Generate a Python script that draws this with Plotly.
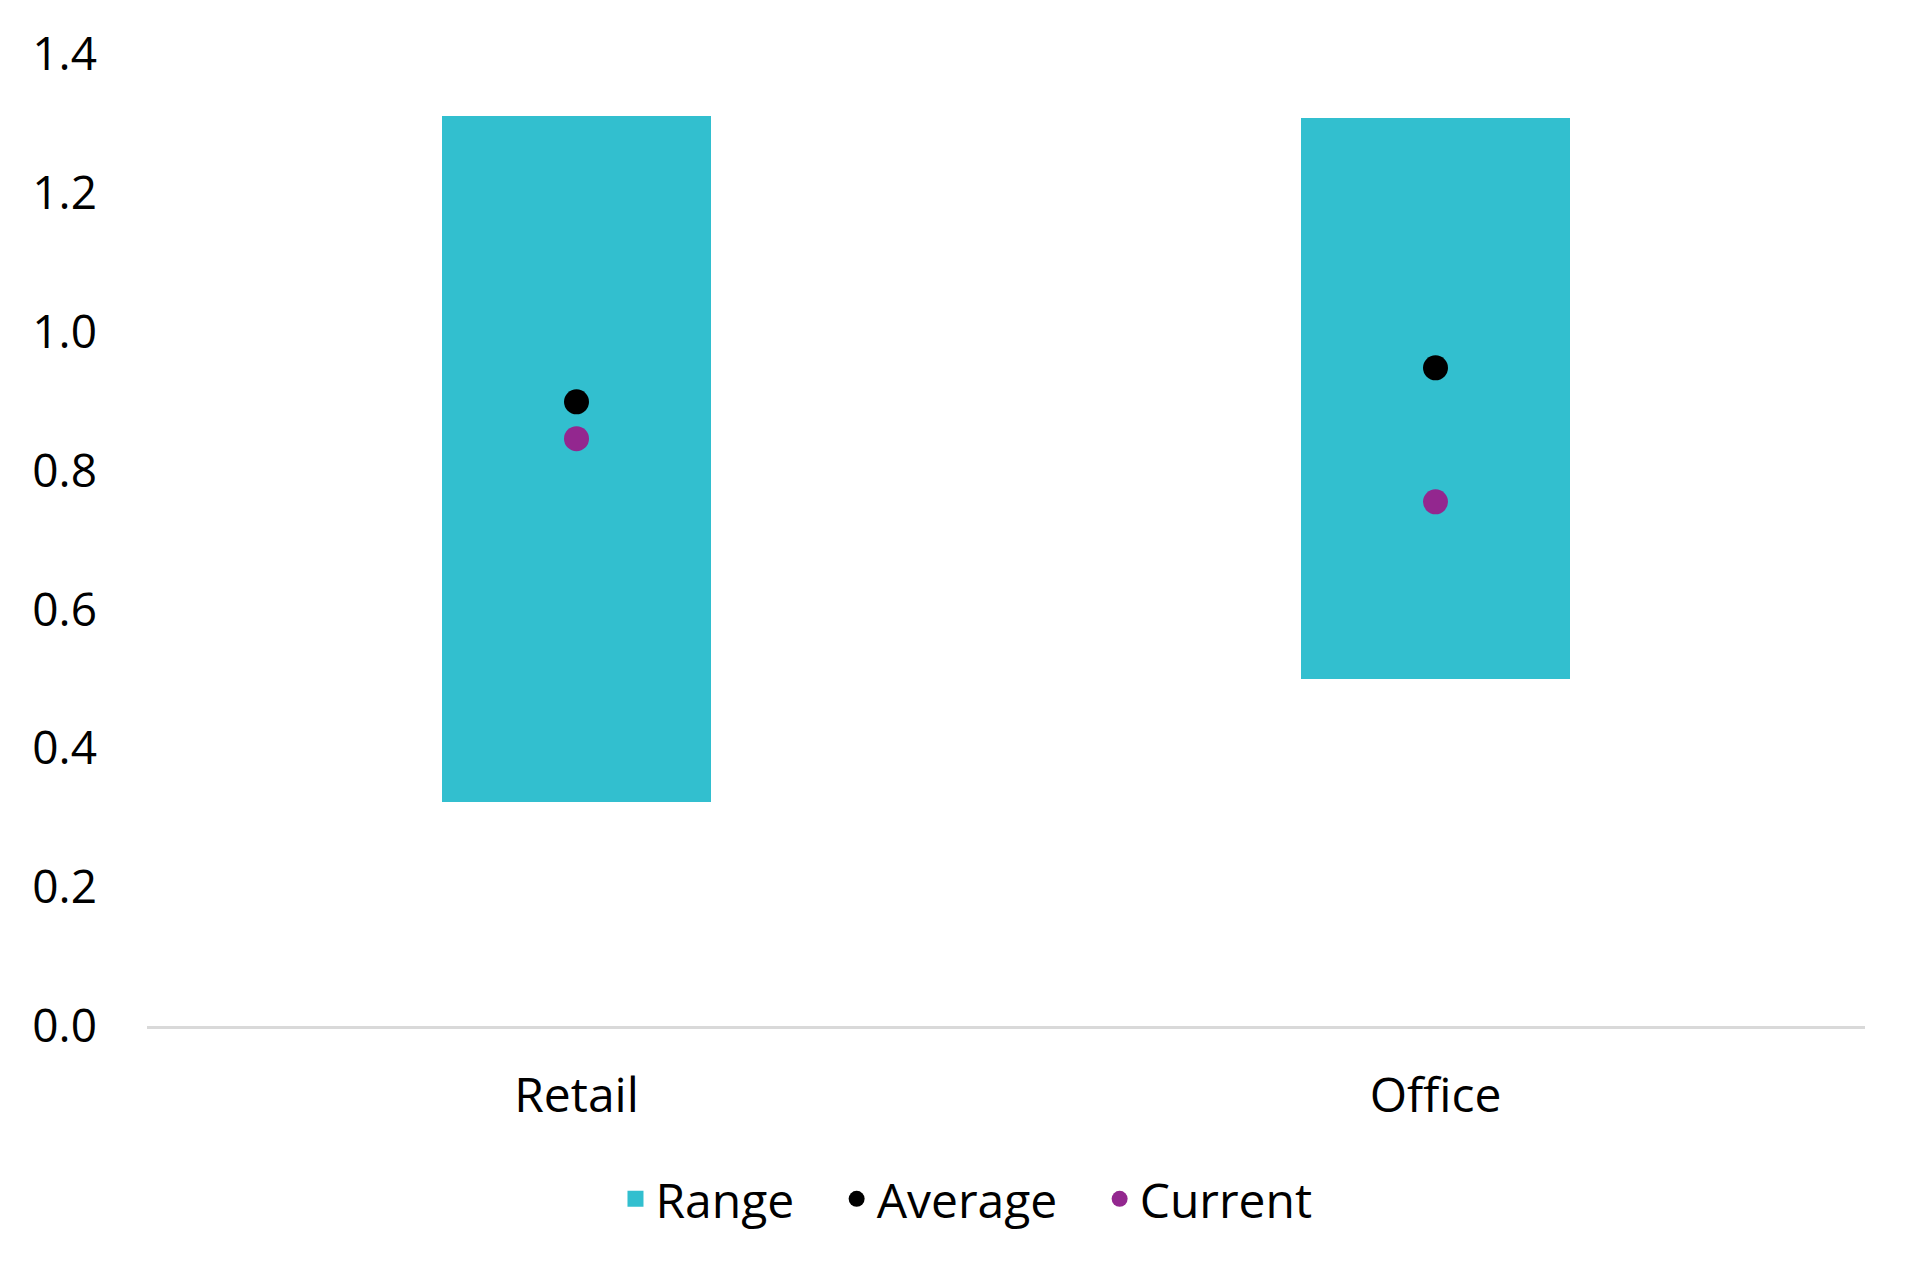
import plotly.graph_objects as go

categories = ["Retail", "Office"]
range_low = [0.323, 0.50]
range_high = [1.311, 1.308]
average = [0.899, 0.948]
current = [0.846, 0.755]
y_ticks = [0.0, 0.2, 0.4, 0.6, 0.8, 1.0, 1.2, 1.4]
legend_names = ["Range", "Average", "Current"]

TEAL = "#32BFCF"
PURPLE = "#93278F"
FONT = "Open Sans"
PAD = "\u00a0\u00a0\u00a0"

fig = go.Figure()
fig.add_trace(go.Bar(
    x=categories,
    y=[h - l for h, l in zip(range_high, range_low)],
    base=range_low,
    width=0.313,
    marker=dict(color=TEAL, line=dict(width=0)),
    name=legend_names[0],
    showlegend=False,
    legendgroup="range",
))
# legend entry for the range (square swatch)
fig.add_trace(go.Scatter(
    x=[None], y=[None], mode="markers",
    marker=dict(color=TEAL, size=29, symbol="square"),
    name=legend_names[0] + PAD,
    legendgroup="range",
))
fig.add_trace(go.Scatter(
    x=categories, y=average, mode="markers",
    marker=dict(color="black", size=25),
    name=legend_names[1] + PAD,
))
fig.add_trace(go.Scatter(
    x=categories, y=current, mode="markers",
    marker=dict(color=PURPLE, size=25),
    name=legend_names[2],
))

fig.update_layout(
    width=1899, height=1260,
    margin=dict(l=139, r=42, t=46, b=242),
    paper_bgcolor="white", plot_bgcolor="white",
    font=dict(family=FONT, size=48, color="black"),
    showlegend=True,
    legend=dict(
        orientation="h", x=0.477, xanchor="center",
        y=-0.139, yanchor="top",
        font=dict(family=FONT, size=48, color="black"),
    ),
    bargap=0,
)
fig.update_xaxes(
    range=[-0.5, 1.5],
    showline=True, linecolor="#D9D9D9", linewidth=3,
    showgrid=False, ticks="", ticklabelstandoff=25,
    tickfont=dict(family=FONT, size=48, color="black"),
)
fig.update_yaxes(
    range=[0, 1.4],
    tickvals=y_ticks, tickformat=".1f",
    showline=False, showgrid=False, zeroline=False,
    ticks="", ticklabelstandoff=49,
    tickfont=dict(family=FONT, size=46, color="black"),
)

fig.write_html("out.html")
